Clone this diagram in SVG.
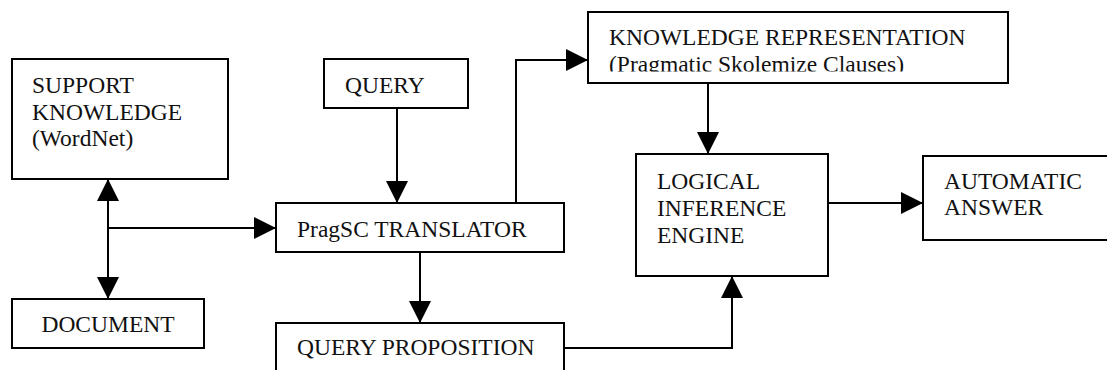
<svg xmlns="http://www.w3.org/2000/svg" width="1107" height="370" viewBox="0 0 1107 370">
  <style>
    .box { fill: #ffffff; stroke: #000000; stroke-width: 2; }
    .lbl { font-family: "Liberation Serif", "Times New Roman", serif; font-size: 23.5px; fill: #111111; }
    .wire { fill: none; stroke: #000000; stroke-width: 2; }
  </style>
  <defs>
    <marker id="head" markerUnits="userSpaceOnUse" markerWidth="22" markerHeight="22" refX="20" refY="10" orient="auto-start-reverse" viewBox="0 0 20 20">
      <path d="M0,0 L20,10 L0,20 Z" fill="#000000"/>
    </marker>
    <clipPath id="krClip">
      <rect x="589" y="13" width="500" height="58.5"/>
    </clipPath>
  </defs>

  <rect width="1107" height="370" fill="#ffffff"/>

  <!-- connectors -->
  <g id="connectors">
    <line class="wire" x1="108" y1="228" x2="108" y2="179" marker-end="url(#head)"/>
    <line class="wire" x1="108" y1="228" x2="108" y2="299" marker-end="url(#head)"/>
    <line class="wire" x1="108" y1="228" x2="276" y2="228" marker-end="url(#head)"/>
    <line class="wire" x1="397" y1="108" x2="397" y2="203" marker-end="url(#head)"/>
    <path class="wire" d="M516,203 V60 H588" marker-end="url(#head)"/>
    <line class="wire" x1="708" y1="83" x2="708" y2="154" marker-end="url(#head)"/>
    <line class="wire" x1="420" y1="252" x2="420" y2="323" marker-end="url(#head)"/>
    <path class="wire" d="M564,348 H732 V276" marker-end="url(#head)"/>
    <line class="wire" x1="828" y1="203" x2="923" y2="203" marker-end="url(#head)"/>
  </g>

  <g id="support">
    <rect class="box" x="12" y="59" width="216" height="120"/>
    <text class="lbl" x="32" y="93">SUPPORT</text>
    <text class="lbl" x="32" y="120">KNOWLEDGE</text>
    <text class="lbl" x="32" y="146">(WordNet)</text>
  </g>

  <g id="document">
    <rect class="box" x="12" y="299" width="192" height="49"/>
    <text class="lbl" x="108" y="332" text-anchor="middle">DOCUMENT</text>
  </g>

  <g id="query">
    <rect class="box" x="324" y="59" width="144" height="49"/>
    <text class="lbl" x="345" y="93">QUERY</text>
  </g>

  <g id="translator">
    <rect class="box" x="276" y="203" width="288" height="49"/>
    <text class="lbl" x="297" y="237">PragSC TRANSLATOR</text>
  </g>

  <g id="proposition">
    <rect class="box" x="276" y="323" width="288" height="60"/>
    <text class="lbl" x="297" y="355">QUERY PROPOSITION</text>
  </g>

  <g id="representation">
    <rect class="box" x="588" y="12" width="420" height="71"/>
    <g clip-path="url(#krClip)">
      <text class="lbl" x="609" y="45">KNOWLEDGE REPRESENTATION</text>
      <text class="lbl" x="609" y="72">(Pragmatic Skolemize Clauses)</text>
    </g>
  </g>

  <g id="inference">
    <rect class="box" x="636" y="154" width="192" height="122"/>
    <text class="lbl" x="657" y="189">LOGICAL</text>
    <text class="lbl" x="657" y="216">INFERENCE</text>
    <text class="lbl" x="657" y="243">ENGINE</text>
  </g>

  <g id="answer">
    <rect class="box" x="923" y="156" width="200" height="84"/>
    <text class="lbl" x="944" y="189">AUTOMATIC</text>
    <text class="lbl" x="944" y="215">ANSWER</text>
  </g>
</svg>
